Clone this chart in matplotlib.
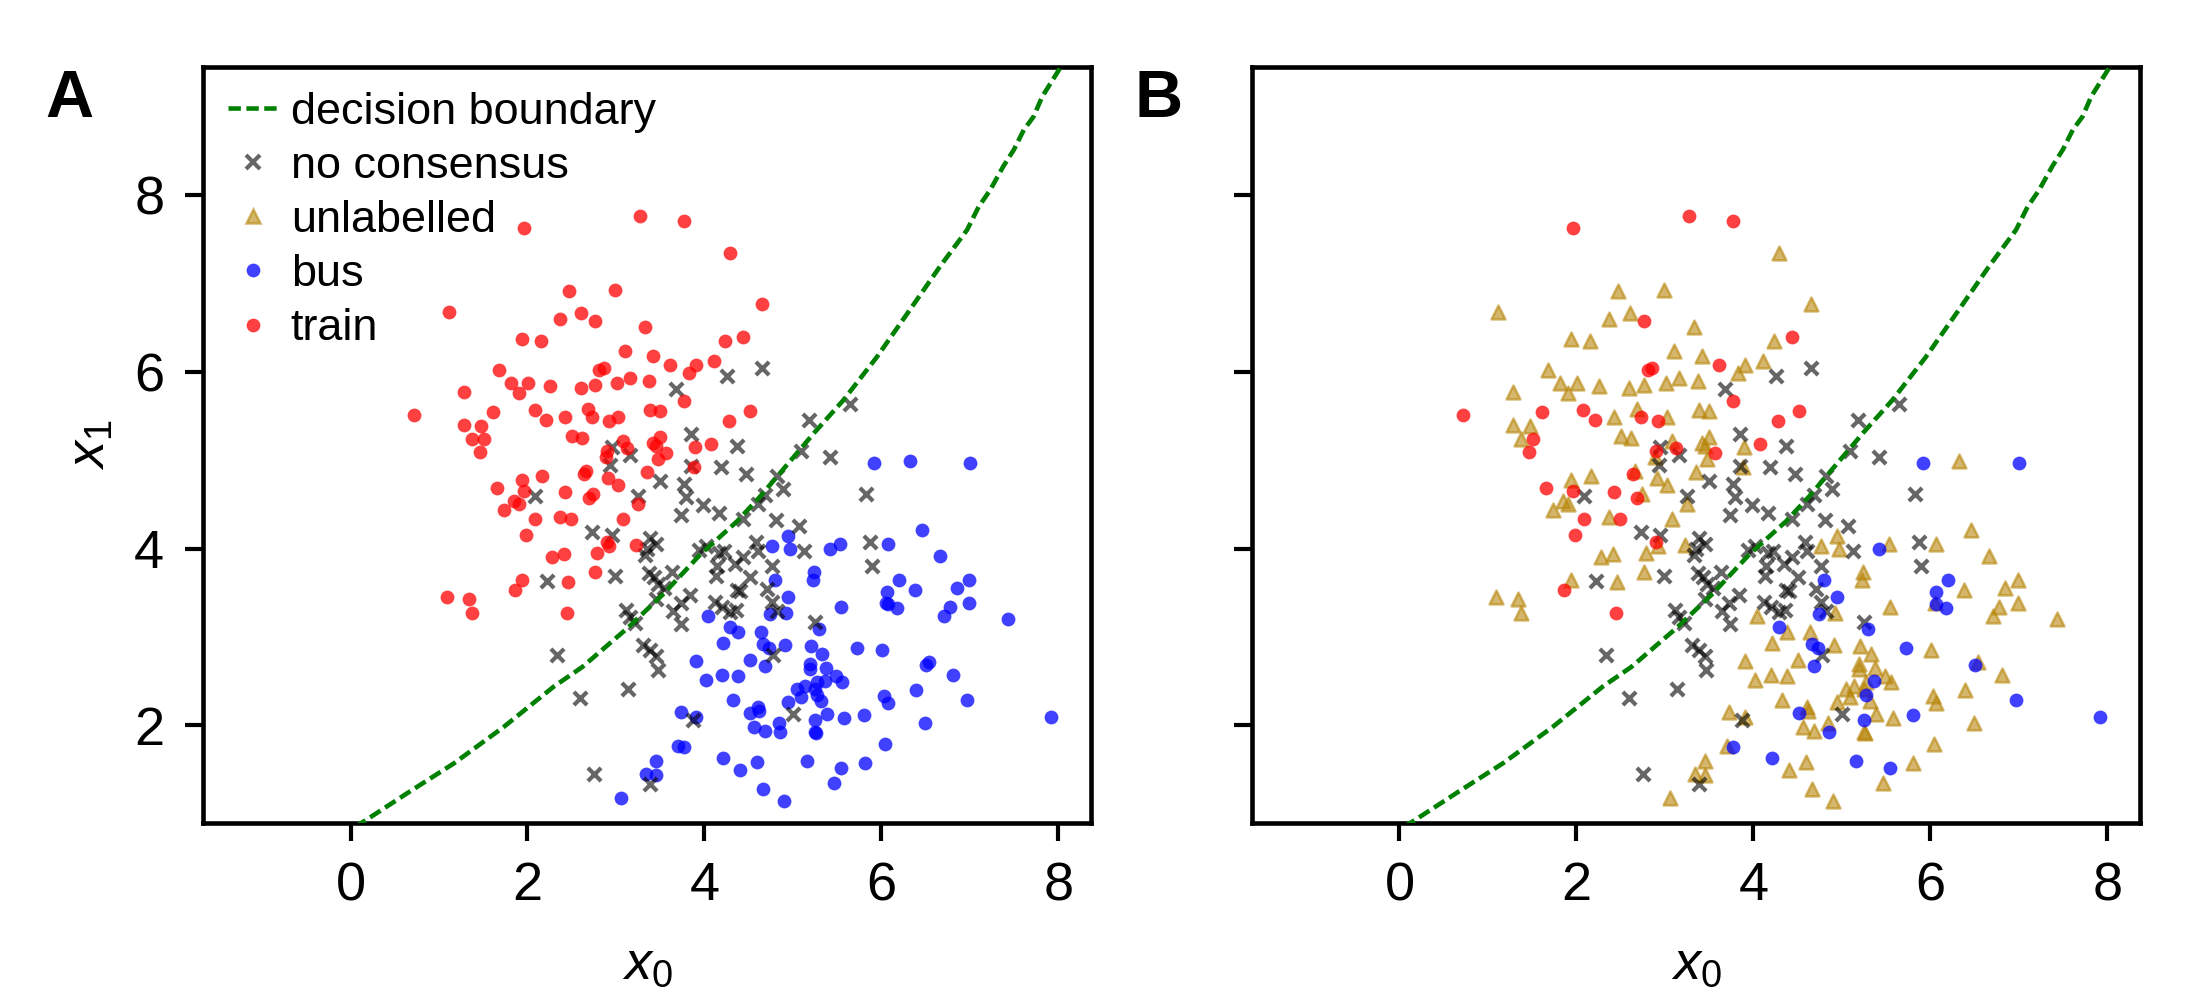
import numpy as np
import matplotlib
matplotlib.use("Agg")
import matplotlib.pyplot as plt
from matplotlib.lines import Line2D

plt.rcParams['font.family'] = ['Liberation Sans', 'DejaVu Sans']
plt.rcParams['mathtext.fontset'] = 'custom'
plt.rcParams['mathtext.it'] = 'Liberation Sans:italic'
plt.rcParams['mathtext.rm'] = 'Liberation Sans'

# ---------------- data ----------------
# train points: x0, x1, and whether still labelled in panel B (1) or unlabelled (0)
train_x = [1.96, 3.27, 3.77, 4.29, 2.47, 2.99, 1.11, 2.37, 2.61, 2.76, 3.33, 1.94, 2.15, 4.23, 4.44,
           3.10, 3.42, 1.68, 1.81, 2.01, 1.90, 1.28, 2.26, 2.60, 2.76, 2.81, 2.86, 3.01, 3.16, 3.37,
           3.61, 3.91, 3.83, 4.11, 3.77, 0.72, 1.61, 1.28, 1.47, 1.37, 1.51, 1.46, 2.08, 2.21, 2.43,
           2.68, 2.73, 2.92, 3.02, 2.50, 2.62, 3.39, 3.50, 4.28, 3.08, 3.12, 2.90, 2.89, 3.42, 3.50,
           3.45, 3.57, 3.48, 4.08, 3.89, 3.88, 3.35, 2.66, 2.64, 2.17, 1.94, 2.91, 3.02, 1.66, 1.96,
           2.42, 2.74, 2.69, 3.25, 1.85, 1.90, 1.73, 2.09, 2.37, 2.49, 3.08, 1.98, 2.90, 2.92, 3.23,
           2.28, 2.41, 2.79, 2.76, 1.94, 1.86, 2.46, 1.09, 1.34, 1.37, 2.45, 4.65, 4.52]
train_y = [7.63, 7.77, 7.71, 7.35, 6.92, 6.93, 6.68, 6.60, 6.67, 6.58, 6.51, 6.37, 6.35, 6.35, 6.40,
           6.24, 6.18, 6.02, 5.88, 5.88, 5.76, 5.77, 5.84, 5.82, 5.85, 6.02, 6.05, 5.88, 5.93, 5.90,
           6.08, 6.08, 5.99, 6.13, 5.67, 5.51, 5.55, 5.40, 5.39, 5.24, 5.24, 5.09, 5.57, 5.46, 5.49,
           5.58, 5.49, 5.44, 5.49, 5.27, 5.25, 5.57, 5.56, 5.44, 5.22, 5.14, 5.11, 5.04, 5.20, 5.26,
           5.16, 5.08, 5.02, 5.19, 5.15, 4.92, 4.87, 4.88, 4.85, 4.82, 4.78, 4.80, 4.72, 4.69, 4.65,
           4.64, 4.62, 4.57, 4.51, 4.54, 4.51, 4.44, 4.34, 4.36, 4.34, 4.34, 4.16, 4.08, 4.03, 4.04,
           3.91, 3.94, 3.95, 3.74, 3.65, 3.53, 3.62, 3.45, 3.43, 3.27, 3.27, 6.77, 5.56]
train_keep = [1, 1, 1, 0, 0, 0, 0, 0, 0, 1, 0, 0, 0, 0, 1,
              0, 0, 0, 0, 0, 0, 0, 0, 0, 0, 1, 1, 0, 0, 0,
              1, 0, 0, 0, 1, 1, 1, 0, 0, 0, 1, 1, 1, 1, 0,
              0, 1, 1, 0, 0, 0, 0, 0, 1, 0, 1, 1, 0, 0, 0,
              0, 1, 0, 1, 0, 0, 0, 0, 1, 0, 0, 0, 0, 1, 1,
              1, 0, 1, 0, 0, 0, 0, 1, 0, 1, 0, 1, 1, 0, 0,
              0, 0, 0, 0, 0, 1, 0, 0, 0, 0, 1, 0, 1]

# bus points
bus_x = [5.92, 6.32, 7.00, 6.46, 4.94, 4.76, 4.97, 5.42, 5.53, 6.07, 6.66, 5.24, 5.23, 4.80, 6.20,
         6.99, 6.85, 6.38, 6.06, 6.99, 6.78, 6.71, 7.43, 6.07, 6.18, 6.05, 5.54, 4.94, 4.92, 4.74,
         5.30, 4.29, 4.38, 4.21, 4.64, 4.66, 4.73, 4.91, 5.20, 5.33, 5.73, 6.01, 4.51, 4.69, 5.19,
         5.19, 5.37, 6.54, 6.51, 6.81, 4.20, 4.38, 5.49, 5.56, 5.36, 5.27, 5.14, 5.05, 5.25, 5.27,
         5.09, 5.32, 6.39, 6.03, 6.07, 6.97, 4.32, 4.94, 4.61, 4.52, 4.62, 4.56, 4.68, 4.84, 4.85,
         5.25, 5.25, 5.26, 5.39, 5.58, 5.80, 6.49, 7.92, 6.04, 4.21, 4.40, 4.60, 5.16, 5.54, 5.81,
         4.66, 5.47, 4.90, 4.04, 3.90, 4.02, 3.73, 3.91, 3.70, 3.77, 3.45, 3.34, 3.45, 3.06]
bus_y = [4.97, 4.99, 4.97, 4.21, 4.14, 4.03, 4.00, 4.00, 4.05, 4.05, 3.92, 3.74, 3.65, 3.65, 3.65,
         3.65, 3.55, 3.53, 3.51, 3.38, 3.34, 3.24, 3.20, 3.37, 3.33, 3.39, 3.34, 3.45, 3.27, 3.26,
         3.09, 3.11, 3.06, 2.93, 3.06, 2.92, 2.88, 2.91, 2.90, 2.81, 2.87, 2.85, 2.74, 2.67, 2.69,
         2.64, 2.65, 2.72, 2.68, 2.57, 2.57, 2.56, 2.56, 2.49, 2.50, 2.49, 2.45, 2.41, 2.41, 2.34,
         2.32, 2.27, 2.40, 2.33, 2.25, 2.29, 2.29, 2.26, 2.21, 2.14, 2.16, 1.98, 1.94, 2.03, 1.92,
         2.06, 1.92, 1.91, 2.13, 2.08, 2.12, 2.03, 2.09, 1.79, 1.63, 1.49, 1.58, 1.60, 1.52, 1.57,
         1.28, 1.35, 1.14, 3.24, 2.73, 2.51, 2.15, 2.09, 1.77, 1.75, 1.60, 1.45, 1.44, 1.18]
bus_keep = [1, 0, 1, 0, 0, 0, 0, 1, 0, 0, 0, 0, 0, 1, 1,
            0, 0, 0, 1, 0, 0, 0, 0, 1, 1, 0, 0, 1, 0, 1,
            1, 1, 0, 0, 0, 1, 1, 0, 0, 0, 1, 0, 0, 1, 0,
            0, 0, 0, 1, 0, 0, 0, 0, 0, 1, 0, 0, 0, 0, 1,
            0, 0, 0, 0, 0, 1, 0, 0, 0, 1, 0, 0, 0, 0, 1,
            1, 0, 0, 0, 0, 1, 0, 1, 0, 1, 0, 0, 1, 1, 0,
            0, 0, 0, 0, 0, 0, 0, 0, 0, 1, 0, 0, 0, 0]

# no-consensus points
nc_x = [4.26, 3.68, 3.85, 4.37, 2.95, 3.16, 2.93, 3.85, 4.19, 3.50, 3.77, 3.79, 3.25, 2.09, 3.98,
        4.17, 3.74, 2.73, 2.95, 3.39, 3.45, 3.35, 3.33, 2.22, 2.99, 3.37, 3.43, 3.48, 3.54, 3.63,
        3.45, 3.84, 3.94, 4.02, 4.16, 4.14, 4.13, 4.35, 3.73, 3.65, 3.74, 4.12, 4.20, 4.29, 4.37,
        3.11, 3.16, 3.22, 3.31, 3.39, 3.45, 3.47, 2.33, 2.59, 3.14, 3.87, 2.75, 3.39, 4.65, 5.18,
        5.65, 4.47, 5.09, 5.42, 4.82, 4.89, 4.69, 4.61, 5.83, 4.44, 4.81, 5.07, 4.58, 4.61, 5.13,
        5.87, 4.22, 4.44, 5.89, 4.76, 4.51, 4.40, 4.71, 4.76, 4.82, 4.36, 5.25, 4.78, 5.00]
nc_y = [5.96, 5.81, 5.30, 5.16, 5.15, 5.06, 4.95, 4.94, 4.92, 4.77, 4.73, 4.59, 4.60, 4.60, 4.49,
        4.40, 4.38, 4.19, 4.16, 4.12, 4.05, 4.00, 3.93, 3.63, 3.69, 3.72, 3.68, 3.60, 3.55, 3.74,
        3.43, 3.47, 3.99, 4.03, 3.95, 3.80, 3.69, 3.83, 3.38, 3.29, 3.15, 3.40, 3.34, 3.28, 3.53,
        3.31, 3.23, 3.16, 2.91, 2.85, 2.78, 2.63, 2.80, 2.31, 2.41, 2.06, 1.45, 1.34, 6.04, 5.46,
        5.64, 4.85, 5.11, 5.04, 4.82, 4.67, 4.61, 4.51, 4.62, 4.34, 4.32, 4.26, 4.08, 3.97, 3.97,
        4.07, 3.97, 3.91, 3.80, 3.80, 3.68, 3.52, 3.54, 3.40, 3.29, 3.31, 3.17, 2.80, 2.13]

# decision boundary
boundary_x = [0.05, 0.18, 0.67, 1.17, 1.73, 2.30, 2.62, 3.13, 3.54, 3.95, 4.37, 4.63, 5.24, 5.57,
              5.95, 6.32, 6.66, 6.97, 7.10, 7.23, 7.38, 7.50, 7.61, 7.72, 7.82, 8.02, 8.08]
boundary_y = [0.85, 0.93, 1.25, 1.57, 1.98, 2.44, 2.66, 3.10, 3.49, 3.93, 4.31, 4.59, 5.31, 5.68,
              6.17, 6.70, 7.19, 7.61, 7.87, 8.06, 8.33, 8.52, 8.74, 8.89, 9.12, 9.44, 9.55]

xticks = [0, 2, 4, 6, 8]
yticks = [2, 4, 6, 8]

# ---------------- styles ----------------
C_TRAIN = 'red'
C_BUS = 'blue'
C_UNL = 'darkgoldenrod'
C_NC = 'black'
S = 11
LW_B = 1.1
DASH = (2.7, 1.2)

train_x = np.array(train_x); train_y = np.array(train_y); train_keep = np.array(train_keep, bool)
bus_x = np.array(bus_x); bus_y = np.array(bus_y); bus_keep = np.array(bus_keep, bool)

fig = plt.figure(figsize=(22/3, 10/3), dpi=300)
axA = fig.add_axes([0.0923, 0.1773, 0.4036, 0.7554])
axB = fig.add_axes([0.5691, 0.1773, 0.4036, 0.7554], sharey=axA)


def style(ax):
    ax.set_xlim(-1.667, 8.37)
    ax.set_ylim(0.897, 9.45)
    ax.set_xticks(xticks)
    ax.set_yticks(yticks)
    for sp in ax.spines.values():
        sp.set_linewidth(1.1)
    ax.tick_params(labelsize=13, length=4.3, width=1.0, pad=5)
    ax.set_xlabel('$x_0$', fontsize=13)
    ax.xaxis.set_label_coords(0.5, -0.188)
    ax.xaxis.label.set_va('center')


def boundary(ax):
    ax.plot(boundary_x, boundary_y, ls=(0, DASH), color='green', lw=LW_B, zorder=5)


# Panel A
boundary(axA)
axA.scatter(nc_x, nc_y, marker='x', c=C_NC, alpha=0.6, s=10, linewidths=1.0, zorder=3)
axA.scatter(bus_x, bus_y, marker='o', c=C_BUS, alpha=0.75, s=S, linewidths=0, zorder=2)
axA.scatter(train_x, train_y, marker='o', c=C_TRAIN, alpha=0.75, s=S, linewidths=0, zorder=4)
style(axA)
axA.set_ylabel('$x_1$', fontsize=13)
axA.yaxis.set_label_coords(-0.127, 0.5)
axA.yaxis.label.set_va('center')

handles = [
    Line2D([], [], ls=(0, DASH), color='green', lw=LW_B),
    Line2D([], [], ls='none', marker='x', color=C_NC, alpha=0.6, markersize=3.2, markeredgewidth=1.0),
    Line2D([], [], ls='none', marker='^', color=C_UNL, alpha=0.6, markersize=3.3, markeredgewidth=0.6),
    Line2D([], [], ls='none', marker='o', color=C_BUS, alpha=0.75, markersize=3.3, markeredgewidth=0),
    Line2D([], [], ls='none', marker='o', color=C_TRAIN, alpha=0.75, markersize=3.3, markeredgewidth=0),
]
labels = ['decision boundary', 'no consensus', 'unlabelled', 'bus', 'train']
axA.legend(handles, labels, loc='upper left', frameon=False, fontsize=10.8,
           borderaxespad=0.25, borderpad=0.3, labelspacing=0.29,
           handlelength=1.13, handletextpad=0.27)

# Panel B
boundary(axB)
axB.scatter(nc_x, nc_y, marker='x', c=C_NC, alpha=0.6, s=10, linewidths=1.0, zorder=3)
axB.scatter(np.concatenate([train_x[~train_keep], bus_x[~bus_keep]]),
            np.concatenate([train_y[~train_keep], bus_y[~bus_keep]]),
            marker='^', facecolor=C_UNL, edgecolor=C_UNL, alpha=0.6, s=S, linewidths=0.6, zorder=2)
axB.scatter(bus_x[bus_keep], bus_y[bus_keep], marker='o', c=C_BUS, alpha=0.75, s=S, linewidths=0, zorder=4)
axB.scatter(train_x[train_keep], train_y[train_keep], marker='o', c=C_TRAIN, alpha=0.75, s=S,
            linewidths=0, zorder=4)
style(axB)
axB.tick_params(labelleft=False)

fig.text(0.0316, 0.90, 'A', fontsize=16, fontweight='bold', ha='center', va='center')
fig.text(0.5268, 0.90, 'B', fontsize=16, fontweight='bold', ha='center', va='center')

fig.savefig('out.png', dpi=300)
